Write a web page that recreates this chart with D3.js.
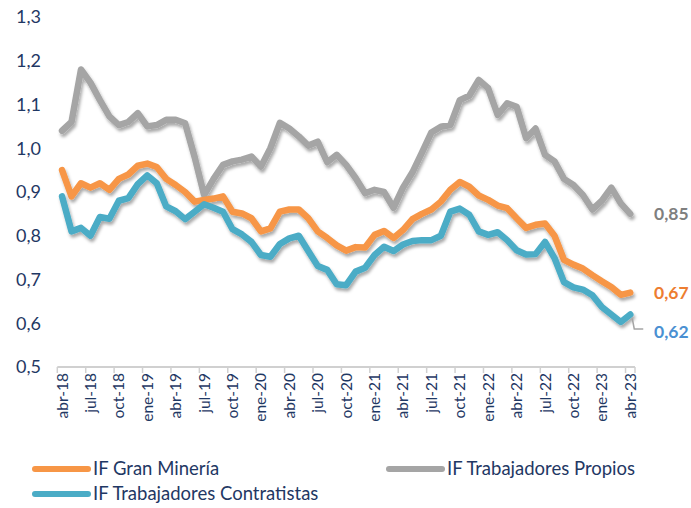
<!DOCTYPE html>
<html><head><meta charset="utf-8">
<script src="https://cdn.jsdelivr.net/npm/d3@7"></script>
<style>
html,body{margin:0;padding:0;background:#fff;}
svg{display:block;font-family:Lato,"Open Sans",sans-serif;}
</style></head>
<body>
<div id="chart"></div>
<script>
const months = [
 "abr-18","may-18","jun-18","jul-18","ago-18","sep-18","oct-18","nov-18","dic-18",
 "ene-19","feb-19","mar-19","abr-19","may-19","jun-19","jul-19","ago-19","sep-19","oct-19","nov-19","dic-19",
 "ene-20","feb-20","mar-20","abr-20","may-20","jun-20","jul-20","ago-20","sep-20","oct-20","nov-20","dic-20",
 "ene-21","feb-21","mar-21","abr-21","may-21","jun-21","jul-21","ago-21","sep-21","oct-21","nov-21","dic-21",
 "ene-22","feb-22","mar-22","abr-22","may-22","jun-22","jul-22","ago-22","sep-22","oct-22","nov-22","dic-22",
 "ene-23","feb-23","mar-23","abr-23"];
const tickMonths = ["abr-18","jul-18","oct-18","ene-19","abr-19","jul-19","oct-19","ene-20","abr-20","jul-20","oct-20",
 "ene-21","abr-21","jul-21","oct-21","ene-22","abr-22","jul-22","oct-22","ene-23","abr-23"];
const yTicks = [0.5,0.6,0.7,0.8,0.9,1.0,1.1,1.2,1.3];

const granMineria = [0.95,0.89,0.92,0.91,0.92,0.905,0.93,0.94,0.96,0.965,0.957,0.93,
 0.916,0.90,0.878,0.882,0.885,0.89,0.855,0.851,0.84,0.81,0.817,0.855,0.86,
 0.86,0.84,0.81,0.795,0.778,0.766,0.774,0.773,0.802,0.811,0.795,0.813,
 0.838,0.85,0.86,0.878,0.905,0.923,0.912,0.892,0.882,0.869,0.863,0.84,
 0.818,0.825,0.828,0.80,0.745,0.734,0.725,0.71,0.696,0.683,0.665,0.67];
const propios = [1.04,1.06,1.18,1.15,1.11,1.073,1.053,1.06,1.08,1.05,1.053,1.065,
 1.065,1.057,0.98,0.893,0.93,0.962,0.97,0.974,0.981,0.958,1.0,1.058,1.045,
 1.027,1.006,1.015,0.968,0.985,0.962,0.932,0.897,0.905,0.90,0.864,0.91,
 0.945,0.99,1.036,1.049,1.053,1.11,1.12,1.156,1.137,1.076,1.103,1.095,
 1.023,1.045,0.985,0.97,0.93,0.916,0.893,0.86,0.88,0.91,0.874,0.85];
const contratistas = [0.89,0.81,0.818,0.80,0.843,0.839,0.88,0.886,0.918,0.938,0.92,0.867,
 0.856,0.838,0.855,0.872,0.864,0.855,0.815,0.803,0.786,0.756,0.752,0.781,0.794,
 0.80,0.765,0.731,0.722,0.689,0.687,0.718,0.727,0.756,0.775,0.765,0.78,
 0.788,0.79,0.79,0.80,0.855,0.862,0.848,0.81,0.802,0.808,0.79,0.767,
 0.757,0.758,0.786,0.749,0.694,0.682,0.677,0.664,0.637,0.62,0.603,0.62];

const seriesNames = ["IF Gran Minería","IF Trabajadores Propios","IF Trabajadores Contratistas"];
const seriesColors = ["#F79646","#A5A5A5","#4BACC6"];
const endLabels = ["0,67","0,85","0,62"];
const endLabelColors = ["#ED7D31","#7F7F7F","#4A90D2"];

const W = 691, H = 508;
const navy = "#1F3864";
const svg = d3.select("#chart").append("svg").attr("width", W).attr("height", H);

const defs = svg.append("defs");
const f = defs.append("filter").attr("id","sh").attr("x","-10%").attr("y","-10%").attr("width","120%").attr("height","130%");
f.append("feDropShadow").attr("dx",1.5).attr("dy",3).attr("stdDeviation",1.6).attr("flood-color","#000").attr("flood-opacity",0.33);

const x = d3.scaleBand().domain(months).range([57.3, 635]);
const y = d3.scaleLinear().domain([0.5, 1.3]).range([367, 17]);
const cx = m => x(m) + x.bandwidth()/2;
const fmt = v => d3.format(".1f")(v).replace(".", ",");

// y axis labels (no line)
const yAxis = d3.axisLeft(y).tickValues(yTicks).tickFormat(fmt).tickSize(0).tickPadding(0);
const yg = svg.append("g").attr("transform","translate(41,0)").call(yAxis);
yg.select(".domain").remove();
yg.selectAll("text").attr("fill", navy).attr("font-size", 18).attr("font-family","Lato,sans-serif");

// x axis
const xg = svg.append("g").attr("transform","translate(0,367)");
xg.append("line").attr("x1",57.3).attr("x2",635).attr("y1",0).attr("y2",0).attr("stroke","#D0D0D0").attr("stroke-width",2);
const tickIdx = tickMonths.map(m => months.indexOf(m));
xg.selectAll("line.tk").data(tickIdx).enter().append("line").attr("class","tk")
  .attr("x1", i => x(months[i])).attr("x2", i => x(months[i])).attr("y1",0).attr("y2",6)
  .attr("stroke","#D0D0D0").attr("stroke-width",1.5);
xg.append("line").attr("x1",635).attr("x2",635).attr("y1",0).attr("y2",6).attr("stroke","#D0D0D0").attr("stroke-width",1.5);
xg.selectAll("text.xl").data(tickMonths).enter().append("text").attr("class","xl")
  .attr("transform", m => `translate(${cx(m)+5.5},6) rotate(-90)`)
  .attr("text-anchor","end").attr("font-size",15.5).attr("fill",navy).text(m => m);

// lines
const allSeries = [granMineria, propios, contratistas];
const line = d3.line().x((d,i) => cx(months[i])).y(d => y(d));
const drawOrder = [1,0,2];
drawOrder.forEach(k => {
  svg.append("path").datum(allSeries[k]).attr("d", line).attr("fill","none")
    .attr("stroke", seriesColors[k]).attr("stroke-width",6.5)
    .attr("stroke-linejoin","round").attr("stroke-linecap","round")
    .attr("filter","url(#sh)");
});

// end labels
const last = months.length - 1;
const lx = cx(months[last]);
svg.append("text").attr("x",654).attr("y", y(propios[last])+6.5).attr("font-size",17.5).attr("font-weight","bold")
  .attr("fill",endLabelColors[1]).text(endLabels[1]);
svg.append("text").attr("x",654).attr("y", y(granMineria[last])+6.5).attr("font-size",17.5).attr("font-weight","bold")
  .attr("fill",endLabelColors[0]).text(endLabels[0]);
const ly = 331;
svg.append("path").attr("d", `M${lx+2},${y(contratistas[last])+4} L${lx+4},${ly-2} L${lx+13},${ly-2}`)
  .attr("fill","none").attr("stroke","#A5A5A5").attr("stroke-width",1.5);
svg.append("text").attr("x",654).attr("y", ly+6.5).attr("font-size",17.5).attr("font-weight","bold")
  .attr("fill",endLabelColors[2]).text(endLabels[2]);

// legend
const legend = [
  {k:0, x:35, y:469},
  {k:1, x:389, y:469},
  {k:2, x:35, y:494}
];
legend.forEach(l => {
  svg.append("line").attr("x1",l.x).attr("x2",l.x+53).attr("y1",l.y).attr("y2",l.y)
    .attr("stroke",seriesColors[l.k]).attr("stroke-width",6).attr("stroke-linecap","round");
  svg.append("text").attr("x",l.x+58).attr("y",l.y+6).attr("font-size",18.5).attr("fill",navy)
    .text(seriesNames[l.k]);
});
</script>
</body></html>
